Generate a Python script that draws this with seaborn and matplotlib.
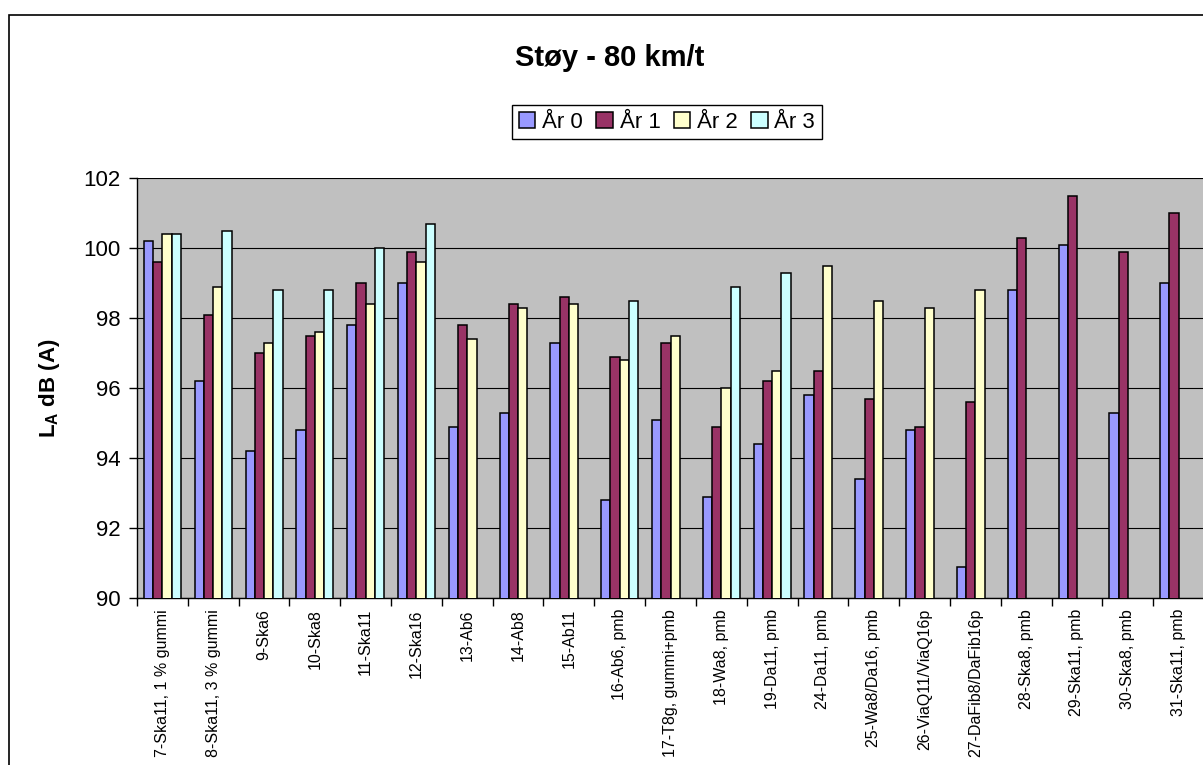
import numpy as np
import pandas as pd
import matplotlib
matplotlib.use("Agg")
import matplotlib.pyplot as plt
from matplotlib.patches import Rectangle
import seaborn as sns

# Road sections (categories)
sections = ["7-Ska11, 1 % gummi", "8-Ska11, 3 % gummi", "9-Ska6", "10-Ska8",
            "11-Ska11", "12-Ska16", "13-Ab6", "14-Ab8", "15-Ab11", "16-Ab6, pmb",
            "17-T8g, gummi+pmb", "18-Wa8, pmb", "19-Da11, pmb", "24-Da11, pmb",
            "25-Wa8/Da16, pmb", "26-ViaQ11/ViaQ16p", "27-DaFib8/DaFib16p",
            "28-Ska8, pmb", "29-Ska11, pmb", "30-Ska8, pmb", "31-Ska11, pmb"]

# Noise level per year (NaN = not measured)
aar0 = [100.2, 96.2, 94.2, 94.8, 97.8, 99.0, 94.9, 95.3, 97.3, 92.8, 95.1,
        92.9, 94.4, 95.8, 93.4, 94.8, 90.9, 98.8, 100.1, 95.3, 99.0]
aar1 = [99.6, 98.1, 97.0, 97.5, 99.0, 99.9, 97.8, 98.4, 98.6, 96.9, 97.3,
        94.9, 96.2, 96.5, 95.7, 94.9, 95.6, 100.3, 101.5, 99.9, 101.0]
aar2 = [100.4, 98.9, 97.3, 97.6, 98.4, 99.6, 97.4, 98.3, 98.4, 96.8, 97.5,
        96.0, 96.5, 99.5, 98.5, 98.3, 98.8, np.nan, np.nan, np.nan, np.nan]
aar3 = [100.4, 100.5, 98.8, 98.8, 100.0, 100.7, np.nan, np.nan, np.nan, 98.5, np.nan,
        98.9, 99.3, np.nan, np.nan, np.nan, np.nan, np.nan, np.nan, np.nan, np.nan]

years = ["År 0", "År 1", "År 2", "År 3"]
colors = ["#9999FF", "#993366", "#FFFFCC", "#CCFFFF"]

# Long format for seaborn, drop missing measurements
df = pd.DataFrame({"Strekning": sections * 4,
                   "År": np.repeat(years, len(sections)),
                   "dB": aar0 + aar1 + aar2 + aar3}).dropna()

sns.set_style("white")
plt.rcParams["font.family"] = ["Liberation Sans", "DejaVu Sans"]
plt.rcParams["mathtext.fontset"] = "custom"
plt.rcParams["mathtext.rm"] = "Liberation Sans"
plt.rcParams["mathtext.bf"] = "Liberation Sans:bold"
for key in ["text.color", "axes.labelcolor", "xtick.color", "ytick.color"]:
    plt.rcParams[key] = "black"

fig = plt.figure(figsize=(12.03, 7.65), dpi=100)
ax = fig.add_axes([137 / 1203, 167 / 765, 1067 / 1203, 420 / 765])

sns.barplot(data=df, x="Strekning", y="dB", hue="År", order=sections,
            hue_order=years, palette=colors, width=4 / 5.5, errorbar=None,
            edgecolor="black", linewidth=1.1, saturation=1, ax=ax, zorder=3)

# Plot area styling
ax.set_facecolor("#C0C0C0")
ax.set_ylim(90, 102)
ax.set_xlim(-0.5, len(sections) - 0.5)
ax.set_yticks(range(90, 103, 2))
ax.yaxis.grid(True, color="black", linewidth=0.8, zorder=0)
ax.set_axisbelow(True)
for side in ["top", "right"]:
    ax.spines[side].set_visible(False)
ax.spines["left"].set_color("black")
ax.spines["bottom"].set_color("black")
ax.spines["left"].set_linewidth(1)
ax.spines["bottom"].set_linewidth(1)

ax.tick_params(axis="y", labelsize=16, length=6, width=1, direction="out", left=True, pad=6)
ax.set_xticks(range(len(sections)))
ax.set_xticklabels(sections, rotation=90, fontsize=11.5, va="top")
ax.tick_params(axis="x", length=0, pad=8)
ax.set_xticks(np.arange(-0.5, len(sections), 1), minor=True)
ax.tick_params(axis="x", which="minor", length=6, width=1, direction="out", bottom=True)
ax.set_xlabel("")
ax.set_ylabel("")

# Y label with subscript
fig.text(49 / 1203, 1 - 388 / 765, r"$\mathbf{L}_{\mathbf{A}}$ dB (A)",
         rotation=90, ha="center", va="center", fontsize=16, fontweight="bold")

# Title
fig.text(610 / 1203, 1 - 58 / 765, "Støy - 80 km/t", ha="center", va="center",
         fontsize=21, fontweight="bold")

# Legend
handles, labels = ax.get_legend_handles_labels()
ax.legend(handles, labels, ncol=4, loc="center", bbox_to_anchor=(667 / 1203, 1 - 122 / 765),
          bbox_transform=fig.transFigure, fontsize=16, frameon=True, fancybox=False,
          edgecolor="black", framealpha=1, handlelength=0.75, handleheight=0.75,
          handletextpad=0.3, columnspacing=0.6, borderpad=0.3, borderaxespad=0)
ax.get_legend().get_frame().set_linewidth(1)

# Outer chart border
fig.patches.append(Rectangle((9 / 1203, -0.05), 1.1, 1 - 15 / 765 + 0.05,
                             transform=fig.transFigure, fill=False,
                             edgecolor="black", linewidth=1.2))

fig.savefig("out.png", dpi=100)
